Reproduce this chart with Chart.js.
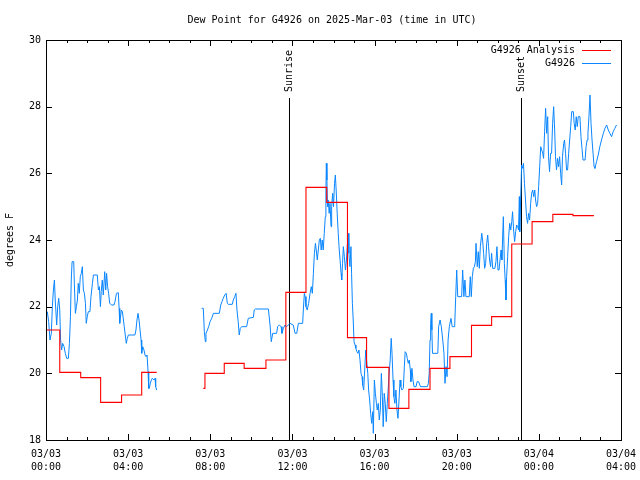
<!DOCTYPE html>
<html><head><meta charset="utf-8">
<script src="https://cdn.jsdelivr.net/npm/chart.js@4"></script>
<style>html,body{margin:0;padding:0;background:#fff}</style>
</head><body>
<canvas id="c" width="640" height="480" style="width:640px;height:480px"></canvas>
<script>
// ---- data (time in hours since 2025-03-03 00:00 UTC) ----
const titleText = 'Dew Point for G4926 on 2025-Mar-03 (time in UTC)';
const seriesNames = ['G4926 Analysis', 'G4926'];
const xTickHours = [0, 4, 8, 12, 16, 20, 24, 28];
const xTickDates = ['03/03', '03/03', '03/03', '03/03', '03/03', '03/03', '03/04', '03/04'];
const xTickTimes = ['00:00', '04:00', '08:00', '12:00', '16:00', '20:00', '00:00', '04:00'];
const yTicks = [18, 20, 22, 24, 26, 28, 30];
const sunEvents = [[11.857, 'Sunrise'], [23.155, 'Sunset']];
const sunLineTop = 28.26;

// analysis (stepped): [hour, value]; null = gap
const analysis = [
 [0,21.3],[0.67,20.03],[1.69,19.87],[2.66,19.13],[3.68,19.35],[4.66,20.03],[5.39,20.03],[6.5,null],
 [7.66,19.55],[7.74,20.0],[8.68,20.3],[9.65,20.15],[10.71,20.4],[11.68,22.43],[12.66,25.58],
 [13.67,25.13],[14.68,21.07],[15.61,20.18],[16.7,18.95],[17.67,19.52],[18.7,20.15],[19.67,20.5],
 [20.72,21.44],[21.7,21.7],[22.68,23.88],[23.67,24.55],[24.68,24.77],[25.66,24.73],[26.68,24.73]
];

// observations: [hour, value]; null = gap
const observed = [
 [0.065,21.85],[0.13,21.55],[0.195,21.0],[0.26,21.2],[0.31,22.0],[0.36,22.5],[0.41,22.8],[0.45,22.2],
 [0.52,21.45],[0.57,22.0],[0.62,22.25],[0.67,21.9],[0.71,21.0],[0.76,20.7],[0.81,20.9],[0.88,20.8],
 [0.94,20.6],[1.01,20.45],[1.09,20.45],[1.14,20.9],[1.19,21.7],[1.23,22.8],[1.27,23.35],[1.35,23.35],
 [1.38,22.7],[1.43,21.8],[1.48,22.0],[1.53,22.2],[1.57,22.7],[1.62,22.4],[1.67,22.9],[1.72,23.0],
 [1.77,23.2],[1.82,22.5],[1.87,22.4],[1.92,22.1],[1.96,21.5],[2.01,21.7],[2.06,21.85],[2.14,21.85],
 [2.19,22.3],[2.26,22.7],[2.31,22.95],[2.5,22.95],[2.55,22.5],[2.6,22.6],[2.65,22.0],[2.69,22.45],
 [2.74,22.8],[2.79,22.35],[2.86,23.05],[2.91,22.5],[2.95,23.0],[3.0,22.6],[3.05,22.4],[3.1,22.1],
 [3.2,22.05],[3.31,22.05],[3.36,22.15],[3.43,22.4],[3.52,22.42],[3.56,21.95],[3.59,21.5],[3.62,21.65],
 [3.67,21.9],[3.72,21.85],[3.77,21.6],[3.81,21.4],[3.86,21.15],[3.91,20.9],[3.96,21.05],[4.01,21.15],
 [4.33,21.15],[4.38,21.3],[4.43,21.6],[4.48,21.8],[4.53,21.6],[4.58,21.3],[4.63,21.0],[4.66,20.6],
 [4.71,20.8],[4.77,20.7],[4.82,20.55],[4.87,20.5],[4.92,20.55],[4.97,20.05],[5.0,19.55],[5.03,19.55],
 [5.08,19.7],[5.13,19.8],[5.18,19.85],[5.26,19.8],[5.31,19.85],[5.34,19.6],[5.39,19.5],[6.5,null],
 [7.58,21.95],[7.66,21.95],[7.71,21.25],[7.76,20.95],[7.79,21.2],[7.86,21.3],[7.92,21.4],[7.99,21.55],
 [8.07,21.65],[8.15,21.8],[8.44,21.8],[8.51,22.05],[8.57,22.15],[8.63,22.25],[8.7,22.35],[8.77,22.4],
 [8.83,22.1],[8.88,22.07],[9.07,22.07],[9.12,22.2],[9.19,22.3],[9.25,22.4],[9.3,21.9],[9.36,21.55],
 [9.41,21.15],[9.46,21.35],[9.53,21.4],[9.77,21.4],[9.85,21.65],[10.1,21.68],[10.14,21.9],[10.19,21.93],
 [10.83,21.93],[10.91,21.45],[10.97,20.95],[11.04,21.2],[11.23,21.2],[11.28,21.4],[11.36,21.45],[11.45,21.4],
 [11.49,21.2],[11.56,21.35],[11.64,21.45],[11.72,21.4],[11.88,21.5],[12.04,21.45],[12.13,21.2],[12.21,21.2],
 [12.29,21.5],[12.5,21.5],[12.53,21.9],[12.58,22.4],[12.62,22.3],[12.66,22.0],[12.72,21.9],[12.79,22.1],
 [12.86,22.4],[12.92,22.6],[12.97,22.4],[13.02,23.0],[13.07,23.6],[13.12,23.9],[13.16,23.7],[13.21,23.4],
 [13.26,23.7],[13.31,24.0],[13.36,24.05],[13.4,23.7],[13.45,24.0],[13.5,23.7],[13.55,24.2],[13.6,24.7],
 [13.63,25.4],[13.65,26.3],[13.68,25.8],[13.71,25.0],[13.74,25.2],[13.79,24.8],[13.83,25.1],[13.88,24.4],
 [13.91,25.0],[13.96,25.4],[14.0,25.0],[14.05,25.7],[14.09,25.95],[14.13,25.5],[14.18,24.8],[14.23,24.2],
 [14.28,23.7],[14.32,23.4],[14.37,23.0],[14.4,22.8],[14.44,23.3],[14.48,23.8],[14.53,23.5],[14.58,23.1],
 [14.63,23.4],[14.68,23.9],[14.72,24.2],[14.75,23.6],[14.8,23.2],[14.85,23.8],[14.88,23.0],[14.92,22.1],
 [14.96,21.6],[15.0,20.95],[15.05,20.85],[15.09,20.75],[15.14,20.65],[15.19,20.6],[15.24,20.7],[15.29,20.4],
 [15.34,20.0],[15.39,19.9],[15.42,19.65],[15.47,19.5],[15.52,20.1],[15.57,20.7],[15.61,20.4],[15.67,20.0],
 [15.71,19.5],[15.76,19.2],[15.81,18.8],[15.86,18.5],[15.91,18.85],[15.94,18.2],[15.99,19.8],[16.04,19.4],
 [16.09,19.1],[16.13,18.9],[16.18,19.1],[16.23,18.6],[16.28,18.9],[16.33,20.0],[16.38,19.3],[16.42,18.4],
 [16.47,19.4],[16.52,19.1],[16.57,18.55],[16.62,19.1],[16.66,19.5],[16.71,20.0],[16.76,20.4],[16.81,21.05],
 [16.85,20.6],[16.9,19.8],[16.94,19.3],[16.99,19.1],[17.04,19.5],[17.09,18.9],[17.14,18.65],[17.19,19.2],
 [17.24,19.8],[17.28,19.6],[17.33,19.5],[17.4,19.55],[17.45,20.2],[17.49,20.65],[17.55,20.6],[17.59,20.45],
 [17.64,20.3],[17.69,20.4],[17.74,20.1],[17.77,19.75],[17.82,20.15],[17.87,19.8],[17.92,19.6],[18.02,19.6],
 [18.07,19.75],[18.14,19.75],[18.24,19.6],[18.57,19.6],[18.62,19.7],[18.66,20.0],[18.7,21.0],[18.73,21.5],
 [18.76,21.8],[18.79,21.3],[18.82,20.6],[19.08,20.6],[19.12,21.4],[19.19,21.6],[19.25,21.4],[19.32,21.0],
 [19.38,20.6],[19.43,19.7],[19.48,20.2],[19.53,19.9],[19.58,21.0],[19.64,21.4],[19.72,21.65],[19.78,21.4],
 [19.9,21.4],[19.95,22.3],[20.0,23.1],[20.05,22.3],[20.24,22.3],[20.29,23.1],[20.35,22.3],[20.4,22.8],
 [20.45,22.3],[20.61,22.3],[20.66,22.9],[20.71,22.3],[20.76,22.9],[20.81,23.15],[20.86,23.2],[20.91,23.35],
 [20.94,23.9],[21.0,23.2],[21.05,23.65],[21.1,23.15],[21.15,23.8],[21.22,24.2],[21.26,24.0],[21.31,23.6],
 [21.36,23.15],[21.41,23.3],[21.46,23.9],[21.51,24.15],[21.55,23.8],[21.6,23.4],[21.65,23.2],[21.7,23.6],
 [21.75,23.15],[21.86,23.15],[21.91,23.35],[21.96,23.8],[22.01,23.1],[22.06,23.1],[22.11,23.4],[22.16,23.7],
 [22.2,23.4],[22.27,24.7],[22.32,23.3],[22.36,22.8],[22.4,22.2],[22.43,22.9],[22.48,23.5],[22.53,24.1],
 [22.58,24.5],[22.63,24.3],[22.68,24.55],[22.72,24.85],[22.77,24.3],[22.82,23.95],[22.87,24.25],[22.92,24.45],
 [22.97,24.4],[23.01,24.3],[23.05,25.3],[23.07,24.25],[23.16,26.25],[23.21,26.15],[23.25,26.3],[23.3,25.7],
 [23.35,25.2],[23.4,24.7],[23.45,24.5],[23.5,24.8],[23.55,24.6],[23.6,25.1],[23.65,25.4],[23.7,25.5],
 [23.75,25.3],[23.8,25.5],[23.84,25.2],[23.89,25.0],[23.94,25.1],[23.99,25.6],[24.04,26.2],[24.09,26.8],
 [24.14,26.7],[24.19,26.6],[24.23,26.45],[24.28,27.25],[24.33,27.95],[24.38,27.2],[24.43,27.7],[24.47,26.5],
 [24.52,26.05],[24.57,26.6],[24.62,26.6],[24.67,27.5],[24.72,28.0],[24.77,27.3],[24.81,26.5],[24.86,26.1],
 [24.91,26.45],[24.96,26.2],[25.01,26.5],[25.06,26.0],[25.11,25.65],[25.15,26.5],[25.21,26.9],[25.25,27.0],
 [25.3,26.6],[25.35,26.1],[25.4,26.1],[25.45,26.6],[25.5,27.0],[25.55,27.4],[25.6,27.85],[25.68,27.85],
 [25.72,27.5],[25.77,27.3],[25.82,27.7],[25.87,27.4],[25.92,27.7],[26.0,27.7],[26.05,27.1],[26.1,26.75],
 [26.15,26.4],[26.25,26.4],[26.3,26.8],[26.35,27.0],[26.39,27.2],[26.44,27.7],[26.49,28.35],[26.54,27.5],
 [26.59,27.0],[26.64,26.6],[26.69,26.2],[26.73,26.15],[26.81,26.35],[26.89,26.55],[26.97,26.8],[27.05,27.0],
 [27.14,27.2],[27.22,27.35],[27.3,27.45],[27.38,27.3],[27.46,27.2],[27.54,27.1],[27.62,27.25],[27.7,27.35],
 [27.78,27.45]
];

const RED = '#ff0000', BLUE = '#0a86ff';
const FONT = 'DejaVu Sans Mono';
Chart.defaults.font.family = FONT;
Chart.defaults.font.size = 10;
Chart.defaults.color = '#000';

const toXY = arr => arr.map(([x, y]) => ({x, y}));

const gnuFrame = {
  id: 'gnuFrame',
  afterDatasetsDraw(chart) {
    const {ctx, chartArea: a, scales: {x, y}} = chart;
    ctx.save();
    ctx.strokeStyle = '#000';
    ctx.lineWidth = 1;
    ctx.beginPath();
    for (let h = xTickHours[0]; h <= xTickHours[xTickHours.length - 1]; h++) {
      const px = Math.round(x.getPixelForValue(h)) + 0.5;
      const L = (h % 4 === 0) ? 6 : 3;
      ctx.moveTo(px, a.bottom); ctx.lineTo(px, a.bottom - L);
      ctx.moveTo(px, a.top); ctx.lineTo(px, a.top + L);
    }
    for (const v of yTicks) {
      const py = Math.round(y.getPixelForValue(v)) + 0.5;
      ctx.moveTo(a.left, py); ctx.lineTo(a.left + 6, py);
      ctx.moveTo(a.right, py); ctx.lineTo(a.right - 6, py);
    }
    ctx.stroke();
    ctx.strokeRect(Math.round(a.left) + 0.5, Math.round(a.top) + 0.5,
                   Math.round(a.right - a.left), Math.round(a.bottom - a.top));
    ctx.fillStyle = '#000';
    ctx.font = '10px "' + FONT + '"';
    // title
    ctx.textAlign = 'center';
    ctx.textBaseline = 'middle';
    ctx.fillText(titleText, 332, 20);
    // sun labels
    for (const [t, label] of sunEvents) {
      const px = x.getPixelForValue(t);
      const py = y.getPixelForValue(sunLineTop) - 6;
      ctx.save();
      ctx.translate(px, py);
      ctx.rotate(-Math.PI / 2);
      ctx.textAlign = 'left';
      ctx.textBaseline = 'middle';
      ctx.fillText(label, 0, 0);
      ctx.restore();
    }
    // legend (gnuplot style: text then sample line)
    const colors = [RED, BLUE];
    ctx.textAlign = 'right';
    ctx.textBaseline = 'middle';
    seriesNames.forEach((name, i) => {
      const ly = a.top + 10 + i * 13;
      ctx.fillStyle = '#000';
      ctx.fillText(name, a.right - 46, ly);
      ctx.strokeStyle = colors[i];
      ctx.beginPath();
      ctx.moveTo(a.right - 39, Math.round(ly) + 0.5);
      ctx.lineTo(a.right - 10, Math.round(ly) + 0.5);
      ctx.stroke();
    });
    ctx.restore();
  }
};

const sunDatasets = sunEvents.map(([t]) => ({
  data: [{x: t, y: yTicks[0]}, {x: t, y: sunLineTop}],
  borderColor: '#000', borderWidth: 1, pointRadius: 0, showLine: true
}));

new Chart(document.getElementById('c'), {
  type: 'line',
  data: {
    datasets: [
      {label: seriesNames[0], data: toXY(analysis), borderColor: RED, borderWidth: 1.1,
       stepped: true, pointRadius: 0, spanGaps: false},
      {label: seriesNames[1], data: toXY(observed), borderColor: BLUE, borderWidth: 1,
       pointRadius: 0, spanGaps: false, tension: 0},
      ...sunDatasets
    ]
  },
  options: {
    responsive: false,
    animation: false,
    layout: {padding: {left: 0, right: 19, top: 40, bottom: 0}},
    plugins: {
      legend: {display: false},
      tooltip: {enabled: false},
      title: {display: false}
    },
    scales: {
      x: {
        type: 'linear', min: xTickHours[0], max: xTickHours[xTickHours.length - 1],
        grid: {display: false, drawTicks: false},
        border: {display: false},
        afterBuildTicks: s => { s.ticks = xTickHours.map(v => ({value: v})); },
        ticks: {
          autoSkip: false, maxRotation: 0, padding: 8,
          font: {family: FONT, size: 10, lineHeight: 1.3},
          callback: v => { const i = xTickHours.indexOf(v); return i < 0 ? '' : [xTickDates[i], xTickTimes[i]]; }
        },
        afterFit: s => { s.height = 40; s.paddingLeft = 0; s.paddingRight = 0; }
      },
      y: {
        type: 'linear', min: yTicks[0], max: yTicks[yTicks.length - 1],
        grid: {display: false, drawTicks: false},
        border: {display: false},
        afterBuildTicks: s => { s.ticks = yTicks.map(v => ({value: v})); },
        ticks: {padding: 5, font: {family: FONT, size: 10}},
        title: {display: true, text: 'degrees F', color: '#000',
                font: {family: FONT, size: 10, lineHeight: 1.2}, padding: {top: 4, bottom: 0}},
        afterFit: s => { s.width = 46; s.paddingTop = 0; s.paddingBottom = 0; }
      }
    }
  },
  plugins: [gnuFrame]
});
</script>
</body></html>
